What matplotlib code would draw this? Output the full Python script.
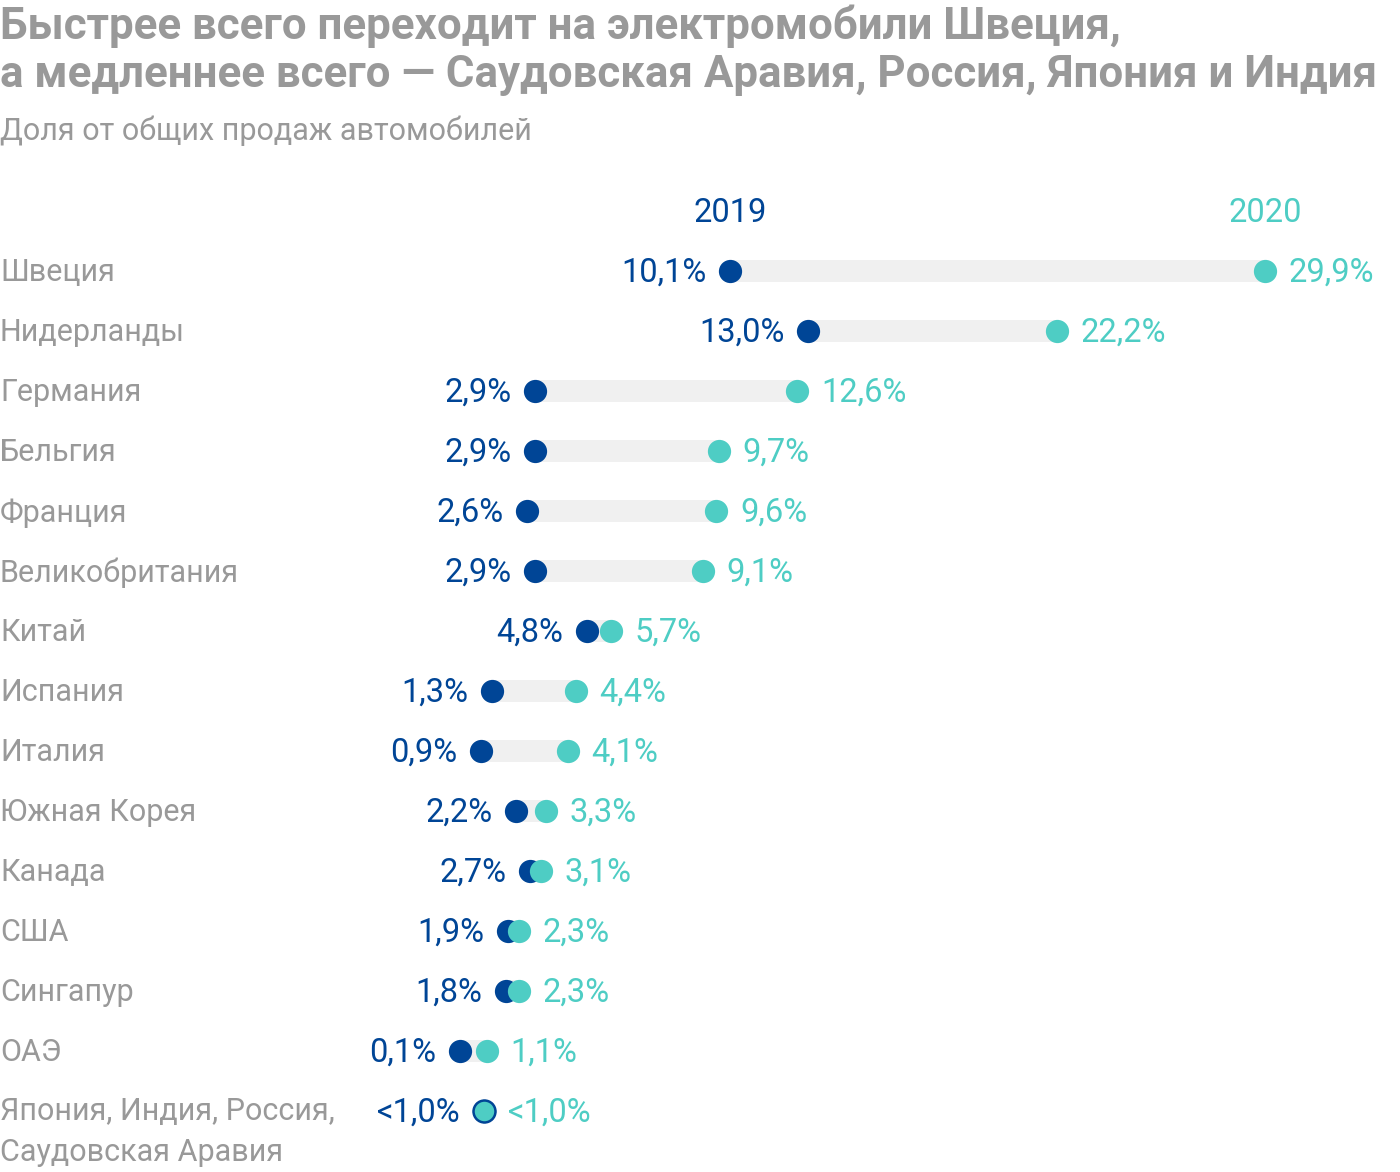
import matplotlib
matplotlib.use('Agg')
import matplotlib.pyplot as plt
import matplotlib.transforms as mtransforms

plt.rcParams['font.family'] = ['Roboto', 'DejaVu Sans']

countries = ['Швеция', 'Нидерланды', 'Германия', 'Бельгия', 'Франция',
             'Великобритания', 'Китай', 'Испания', 'Италия', 'Южная Корея',
             'Канада', 'США', 'Сингапур', 'ОАЭ',
             'Япония, Индия, Россия,\nСаудовская Аравия']
v2019 = [10.1, 13.0, 2.9, 2.9, 2.6, 2.9, 4.8, 1.3, 0.9, 2.2, 2.7, 1.9, 1.8, 0.1, 1.0]
v2020 = [29.9, 22.2, 12.6, 9.7, 9.6, 9.1, 5.7, 4.4, 4.1, 3.3, 3.1, 2.3, 2.3, 1.1, 1.0]
lab2019 = ['10,1%', '13,0%', '2,9%', '2,9%', '2,6%', '2,9%', '4,8%', '1,3%', '0,9%',
           '2,2%', '2,7%', '1,9%', '1,8%', '0,1%', '<1,0%']
lab2020 = ['29,9%', '22,2%', '12,6%', '9,7%', '9,6%', '9,1%', '5,7%', '4,4%', '4,1%',
           '3,3%', '3,1%', '2,3%', '2,3%', '1,1%', '<1,0%']

DARK = '#004596'
TEAL = '#4ecdc4'
GRAY = '#999999'
BAR = '#f0f0f0'

fig = plt.figure(figsize=(14, 11.72), dpi=100)
ax = fig.add_axes([0, 0, 1, 1])
ax.set_xlim(-16.91, 34.9)
ax.set_ylim(15.017, -4.517)
ax.axis('off')

rows = list(range(len(countries)))
lefts = [min(a, b) for a, b in zip(v2019, v2020)]
widths = [abs(b - a) for a, b in zip(v2019, v2020)]
ax.barh(rows, widths, left=lefts, height=0.38, color=BAR, zorder=1)
ax.scatter(v2019, rows, s=280, color=DARK, zorder=3, linewidths=0)

last = len(rows) - 1
ax.scatter(v2020[:last], rows[:last], s=280, color=TEAL, zorder=4, linewidths=0)
ax.scatter([v2020[last]], [rows[last]], s=250, color=TEAL, edgecolors=DARK,
           linewidths=1.8, zorder=4)

fs_num = 23.5
fs_lab = 22
dy = 0.03  # nudge text down a touch so it sits centred on the dots
for i in rows:
    ax.annotate(lab2019[i], (v2019[i], i + dy), xytext=(-17, 0), textcoords='offset points',
                ha='right', va='center', fontsize=fs_num, color=DARK)
    ax.annotate(lab2020[i], (v2020[i], i + dy), xytext=(17, 0), textcoords='offset points',
                ha='left', va='center', fontsize=fs_num, color=TEAL)

trans = mtransforms.blended_transform_factory(fig.transFigure, ax.transData)
for i, name in enumerate(countries):
    if '\n' in name:
        ax.text(0.0, i - 0.24, name, transform=trans, ha='left', va='top',
                fontsize=fs_lab, color=GRAY, linespacing=1.52)
    else:
        ax.text(0.0, i + dy, name, transform=trans, ha='left', va='center',
                fontsize=fs_lab, color=GRAY)

ax.text(v2019[0], -1.0 + dy, '2019', ha='center', va='center', fontsize=fs_num, color=DARK)
ax.text(v2020[0], -1.0 + dy, '2020', ha='center', va='center', fontsize=fs_num, color=TEAL)

fig.text(0.0, 1 - 26 / 1172, 'Быстрее всего переходит на электромобили Швеция,',
         ha='left', va='center', fontsize=31.6, fontweight='bold', color=GRAY)
fig.text(0.0, 1 - 75 / 1172, 'а медленнее всего — Саудовская Аравия, Россия, Япония и Индия',
         ha='left', va='center', fontsize=31.6, fontweight='bold', color=GRAY)
fig.text(0.0, 1 - 131 / 1172, 'Доля от общих продаж автомобилей',
         ha='left', va='center', fontsize=22, color=GRAY)

fig.savefig('out.png', dpi=100, facecolor='white')
